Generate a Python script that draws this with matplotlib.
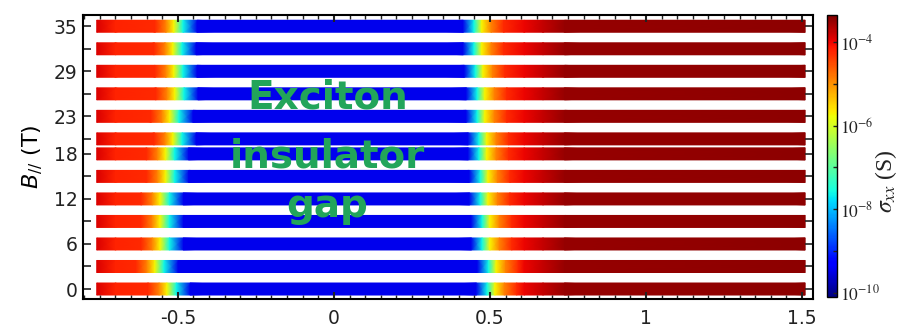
import numpy as np
import matplotlib
matplotlib.use('Agg')
import matplotlib.pyplot as plt
from matplotlib.colors import Normalize
from matplotlib.cm import ScalarMappable
from matplotlib.ticker import MultipleLocator

plt.rc('font', family='DejaVu Sans')
plt.rc('axes', linewidth=1.5, unicode_minus=False)
plt.rc('mathtext', fontset='dejavusans')

# in-plane field of each sweep (T)
b_field = [0, 3, 6, 9, 12, 15, 18, 20, 23, 26, 29, 32, 35]
# gate position of the yellow (~1e-6 S) crossing on each side of the gap, per sweep
gap_left = [-0.535, -0.574, -0.557, -0.557, -0.557, -0.54, -0.54, -0.516, -0.526, -0.51, -0.513, -0.516, -0.513]
gap_right = [0.516, 0.52, 0.50, 0.50, 0.494, 0.494, 0.49, 0.49, 0.484, 0.484, 0.478, 0.474, 0.474]

# log10(sigma_xx) around the gap edges (offsets from the crossing)
left_dx = [-0.06, -0.025, 0.0, 0.03, 0.075]
left_logs = [-4.25, -4.9, -5.7, -7.6, -9.45]
right_dx = [-0.06, -0.025, 0.0, 0.03, 0.07]
right_logs = [-9.45, -7.6, -5.7, -4.9, -4.25]
# far from the gap
outer_left_x = [-0.76, -0.70]
outer_left_logs = [-3.9, -4.2]
outer_right_x = [0.61, 0.67, 0.74, 1.51]
outer_right_logs = [-4.0, -3.75, -3.5, -3.45]

ylabels = {0: '0', 6: '6', 12: '12', 18: '18', 23: '23', 29: '29', 35: '35'}

norm = Normalize(vmin=-10.1, vmax=-3.35)
half_h = 0.8

fig = plt.figure(figsize=(9, 3.29), dpi=100)
ax = fig.add_axes([0.0922, 0.0912, 0.8111, 0.8632])

for b, gl, gr in zip(b_field, gap_left, gap_right):
  xs = outer_left_x + [gl + d for d in left_dx] + [gr + d for d in right_dx] + outer_right_x
  cs = outer_left_logs + left_logs + right_logs + outer_right_logs
  X = np.vstack([xs, xs])
  Y = np.vstack([[b - half_h] * len(xs), [b + half_h] * len(xs)])
  C = np.vstack([cs, cs])
  ax.pcolormesh(X, Y, C, shading='gouraud', cmap='jet', norm=norm)

ax.set_xlim(-0.804, 1.535)
ax.set_ylim(-1.33, 36.5)
ax.set_xticks([-0.5, 0, 0.5, 1, 1.5])
ax.set_xticklabels(['-0.5', '0', '0.5', '1', '1.5'])
ax.xaxis.set_minor_locator(MultipleLocator(0.05))
ax.set_yticks(b_field)
ax.set_yticklabels([ylabels.get(b, '') for b in b_field])
ax.tick_params(which='both', direction='in', top=True, right=True, labelsize=13.5, colors='#222222')
ax.tick_params(axis='x', which='major', length=5, width=1.5, pad=7)
ax.tick_params(axis='x', which='minor', length=3, width=1)
ax.tick_params(axis='y', which='major', length=6, width=1.2, pad=4)
ax.set_ylabel(r'$B_{//}$ (T)', fontsize=16, labelpad=6)

green = '#22a55a'
ax.text(-0.02, 24.1, 'Exciton', color=green, fontsize=28, weight='bold', ha='center', va='baseline')
ax.text(-0.02, 16.2, 'insulator', color=green, fontsize=28, weight='bold', ha='center', va='baseline')
ax.text(-0.02, 9.6, 'gap', color=green, fontsize=28, weight='bold', ha='center', va='baseline')

cax = fig.add_axes([0.919, 0.0973, 0.0111, 0.8571])
sm = ScalarMappable(norm=norm, cmap='jet')
cb = fig.colorbar(sm, cax=cax)
cb.outline.set_linewidth(1)
cb.set_ticks([-10, -9, -8, -7, -6, -5, -4])
cb.set_ticklabels([r'$10^{-10}$', '', r'$10^{-8}$', '', r'$10^{-6}$', '', r'$10^{-4}$'])
cax.tick_params(direction='in', length=3, width=1, labelsize=12.5, pad=2, colors='#222222')
for t in cax.get_yticklabels():
  t.set_math_fontfamily('stix')
fig.text(0.985, 0.45, r'$\sigma_{xx}$ (S)', rotation=90, ha='center', va='center', fontsize=17,
         family='Liberation Serif', math_fontfamily='stix', color='#222222')

plt.savefig('out.png', dpi=100)
